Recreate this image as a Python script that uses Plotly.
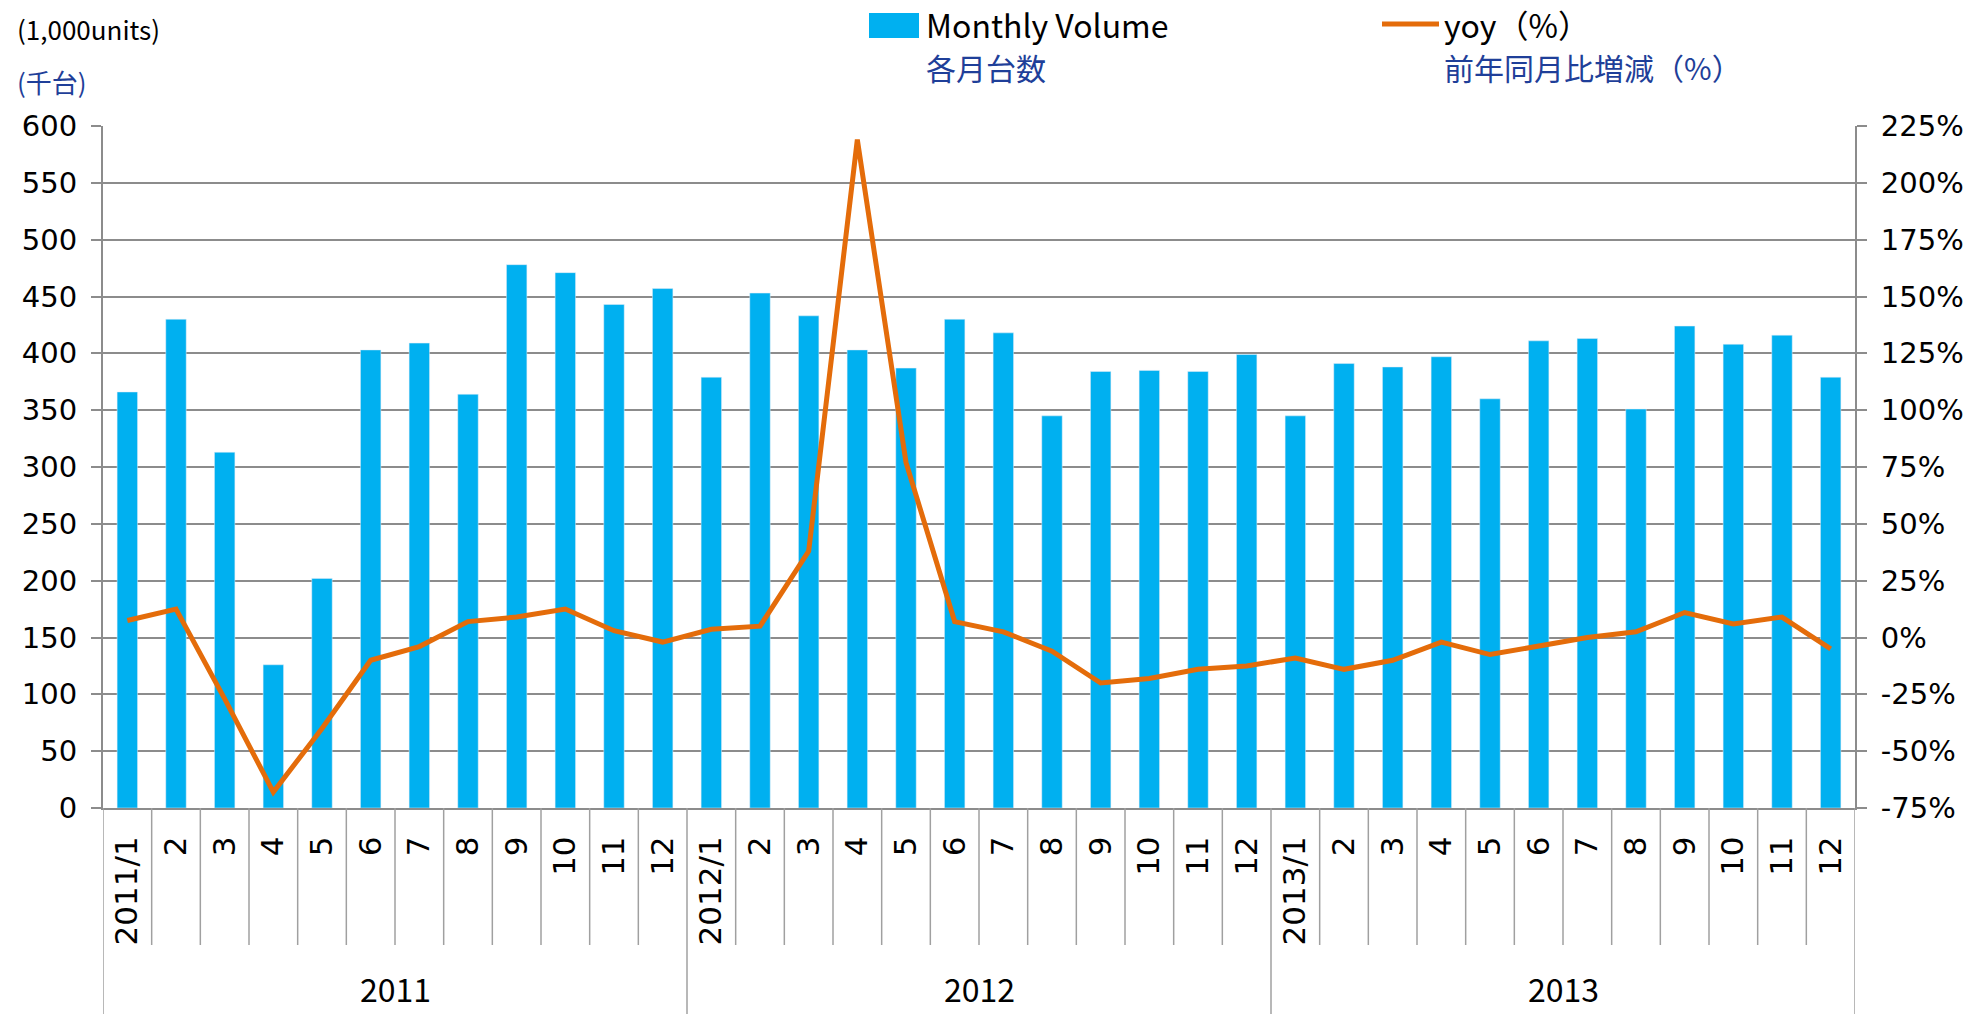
import plotly.graph_objects as go

years = ["2011", "2012", "2013"]
months = ["1", "2", "3", "4", "5", "6", "7", "8", "9", "10", "11", "12"]
tick_labels = []
for y in years:
    for m in months:
        tick_labels.append(f"{y}/{m}" if m == "1" else m)

volume = [366, 430, 313, 126, 202, 403, 409, 364, 478, 471, 443, 457,
          379, 453, 433, 403, 387, 430, 418, 345, 384, 385, 384, 399,
          345, 391, 388, 397, 360, 411, 413, 351, 424, 408, 416, 379]
yoy = [7.5, 12.5, -27, -68, -40, -10, -4, 7, 9, 12.5, 3, -2,
       3.6, 5, 38, 219, 77, 7, 2.5, -6, -20, -18, -14, -12.5,
       -9, -14, -10, -2, -7.5, -4, 0, 2.5, 11, 6, 9, -5]
yoy_ticks = [-75, -50, -25, 0, 25, 50, 75, 100, 125, 150, 175, 200, 225]
yoy_ticktext = [f"{v}%" for v in yoy_ticks]

x = list(range(len(volume)))

W, H = 1988, 1014
L, R, T, B = 103, 133, 126, 206
PW, PH = W - L - R, H - T - B

def px(xp):
    return (xp - L) / PW

def py(yp):
    return 1 + (T - yp) / PH

BLUE = "#00B0F0"
ORANGE = "#E46C0A"
NAVY = "#1F3F99"
GRID = "#8C8C8C"
TICKFONT = "DejaVu Sans, Verdana, sans-serif"
CJK = "Noto Sans CJK JP, Noto Sans, sans-serif"

fig = go.Figure()
fig.add_trace(go.Bar(x=x, y=volume, marker_color=BLUE, width=0.42,
                     name="Monthly Volume", showlegend=False))
fig.add_trace(go.Scatter(x=x, y=yoy, yaxis="y2", mode="lines",
                         line=dict(color=ORANGE, width=5),
                         name="yoy（%）", showlegend=False))

shapes = []
for k in range(len(x) + 1):
    is_year = (k % 12 == 0)
    shapes.append(dict(type="line", xref="x", yref="paper",
                       x0=k - 0.5, x1=k - 0.5, y0=0,
                       y1=py(H) if is_year else py(945),
                       line=dict(color="#A0A0A0", width=1.5)))
shapes.append(dict(type="rect", xref="paper", yref="paper",
                   x0=px(869), x1=px(919), y0=py(38), y1=py(13),
                   fillcolor=BLUE, line=dict(width=0)))
shapes.append(dict(type="line", xref="paper", yref="paper",
                   x0=px(1382), x1=px(1439), y0=py(24), y1=py(24),
                   line=dict(color=ORANGE, width=5)))

def ann(text, xp, yp, size, color, family=CJK, xref="paper", xanchor="left"):
    return dict(text=text, xref=xref, yref="paper", x=xp, y=py(yp),
                xanchor=xanchor, yanchor="middle", showarrow=False,
                font=dict(family=family, size=size, color=color))

annotations = []
for i, yr in enumerate(years):
    annotations.append(ann(yr, i * 12 + 5.5, 988, 32, "black", xref="x", xanchor="center"))
annotations += [
    ann("(1,000units)", px(15), 29, 26, "black"),
    ann("(千台)", px(15), 81, 26, NAVY),
    ann("Monthly Volume", px(924), 24, 32, "black"),
    ann("各月台数", px(924), 67, 30, NAVY),
    ann("yoy（%）", px(1442), 24, 32, "black"),
    ann("前年同月比増減（%）", px(1442), 67, 30, NAVY),
]

fig.update_layout(
    width=W, height=H,
    margin=dict(l=L, r=R, t=T, b=B),
    paper_bgcolor="white", plot_bgcolor="white",
    showlegend=False,
    shapes=shapes, annotations=annotations,
    xaxis=dict(range=[-0.5, len(x) - 0.5], tickmode="array", tickvals=x,
               ticktext=tick_labels, tickangle=-90, ticks="",
               tickfont=dict(family=TICKFONT, size=31, color="black"),
               ticklabelstandoff=14,
               showgrid=False, showline=True, linecolor=GRID, linewidth=2,
               zeroline=False, fixedrange=True),
    yaxis=dict(range=[0, 600], dtick=50, tick0=0, showgrid=True, gridcolor=GRID,
               gridwidth=1.5, showline=True, linecolor=GRID, linewidth=2,
               ticks="outside", ticklen=10, tickcolor=GRID, tickwidth=1.5,
               tickfont=dict(family=TICKFONT, size=29, color="black"),
               ticklabelstandoff=8, zeroline=False),
    yaxis2=dict(range=[-75, 225], tickmode="array", tickvals=yoy_ticks,
                ticktext=yoy_ticktext, overlaying="y", side="right",
                showgrid=False, showline=True, linecolor=GRID,
                linewidth=2, ticks="outside", ticklen=10, tickcolor=GRID,
                tickwidth=1.5, tickfont=dict(family=TICKFONT, size=29, color="black"),
                ticklabelstandoff=8, zeroline=False),
)

fig.write_html("out.html", config={"displayModeBar": False},
               post_script="document.body.style.margin='0';document.body.style.overflow='hidden';")
